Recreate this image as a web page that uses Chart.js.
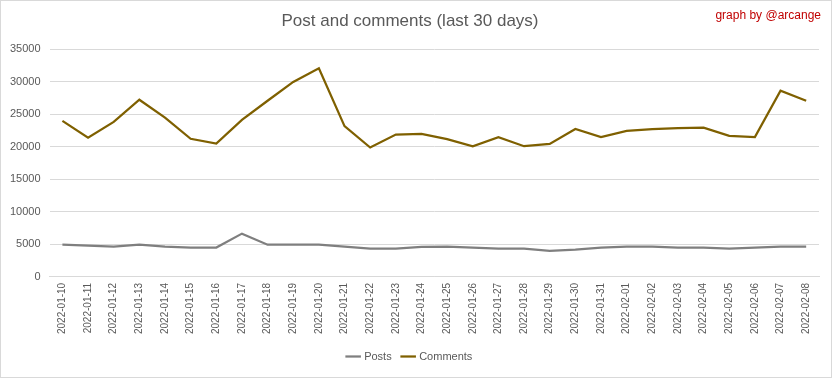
<!DOCTYPE html>
<html>
<head>
<meta charset="utf-8">
<script src="https://cdn.jsdelivr.net/npm/chart.js@4"></script>
<style>
  html, body { margin: 0; padding: 0; background: #fff; }
  #wrap { position: relative; width: 830px; height: 376px; border: 1px solid #d9d9d9; }
</style>
</head>
<body>
<div id="wrap"><canvas id="postsChart"></canvas></div>
<script>
// Data
const days = [
  "2022-01-10", "2022-01-11", "2022-01-12", "2022-01-13", "2022-01-14",
  "2022-01-15", "2022-01-16", "2022-01-17", "2022-01-18", "2022-01-19",
  "2022-01-20", "2022-01-21", "2022-01-22", "2022-01-23", "2022-01-24",
  "2022-01-25", "2022-01-26", "2022-01-27", "2022-01-28", "2022-01-29",
  "2022-01-30", "2022-01-31", "2022-02-01", "2022-02-02", "2022-02-03",
  "2022-02-04", "2022-02-05", "2022-02-06", "2022-02-07", "2022-02-08",
];
const posts = [
  4950, 4800, 4650, 4950, 4650, 4500, 4500, 6650, 4950, 4950,
  4950, 4650, 4350, 4350, 4600, 4650, 4500, 4350, 4350, 4000,
  4200, 4500, 4650, 4650, 4500, 4500, 4350, 4500, 4650, 4650,
];
const comments = [
  24000, 21400, 23850, 27250, 24500, 21250, 20500, 24150, 27100, 30000,
  32100, 23200, 19900, 21900, 22000, 21200, 20100, 21500, 20100, 20450,
  22750, 21500, 22450, 22750, 22900, 22950, 21700, 21500, 28650, 27100,
];
const yTicks = { min: 0, max: 35000, step: 5000 };

const textColor = "#595959";
const fontFamily = "'Liberation Sans', Arial, sans-serif";

// "graph by" credit in the top right corner
const creditPlugin = {
  id: "credit",
  afterDraw(chart) {
    const ctx = chart.ctx;
    ctx.save();
    ctx.font = "12px " + fontFamily;
    ctx.fillStyle = "#c00000";
    ctx.textAlign = "right";
    ctx.textBaseline = "middle";
    ctx.fillText("graph by @arcange", chart.width - 10, 15);
    ctx.restore();
  },
};

const ctx = document.getElementById("postsChart").getContext("2d");
const chart = new Chart(ctx, {
  type: "line",
  data: {
    labels: days,
    datasets: [
      {
        label: "Posts",
        data: posts,
        borderColor: "#7f7f7f",
        backgroundColor: "#7f7f7f",
        borderWidth: 2.25,
        pointRadius: 0,
        tension: 0,
      },
      {
        label: "Comments",
        data: comments,
        borderColor: "#7f6000",
        backgroundColor: "#7f6000",
        borderWidth: 2.25,
        pointRadius: 0,
        tension: 0,
      },
    ],
  },
  options: {
    responsive: true,
    maintainAspectRatio: false,
    animation: false,
    layout: {
      padding: { left: 0, right: 12, top: 0, bottom: 5 },
    },
    plugins: {
      title: {
        display: true,
        text: "Post and comments (last 30 days)",
        color: textColor,
        font: { family: fontFamily, size: 17, weight: "normal" },
        padding: { top: 10, bottom: 18 },
      },
      legend: {
        position: "bottom",
        labels: {
          color: textColor,
          font: { family: fontFamily, size: 11 },
          usePointStyle: true,
          pointStyle: "line",
          boxWidth: 26,
          padding: 11,
        },
      },
      tooltip: { enabled: false },
    },
    scales: {
      x: {
        offset: true,
        grid: { display: false, drawTicks: false },
        border: { display: true, color: "#d9d9d9" },
        ticks: {
          color: textColor,
          font: { family: fontFamily, size: 10 },
          minRotation: 90,
          maxRotation: 90,
          autoSkip: false,
          padding: 6,
        },
      },
      y: {
        min: yTicks.min,
        max: yTicks.max,
        grid: { color: "#d9d9d9", drawTicks: false },
        border: { display: false },
        ticks: {
          stepSize: yTicks.step,
          color: textColor,
          font: { family: fontFamily, size: 11 },
          padding: 9,
          callback: (v) => String(v),
        },
      },
    },
  },
  plugins: [creditPlugin],
});
</script>
</body>
</html>
